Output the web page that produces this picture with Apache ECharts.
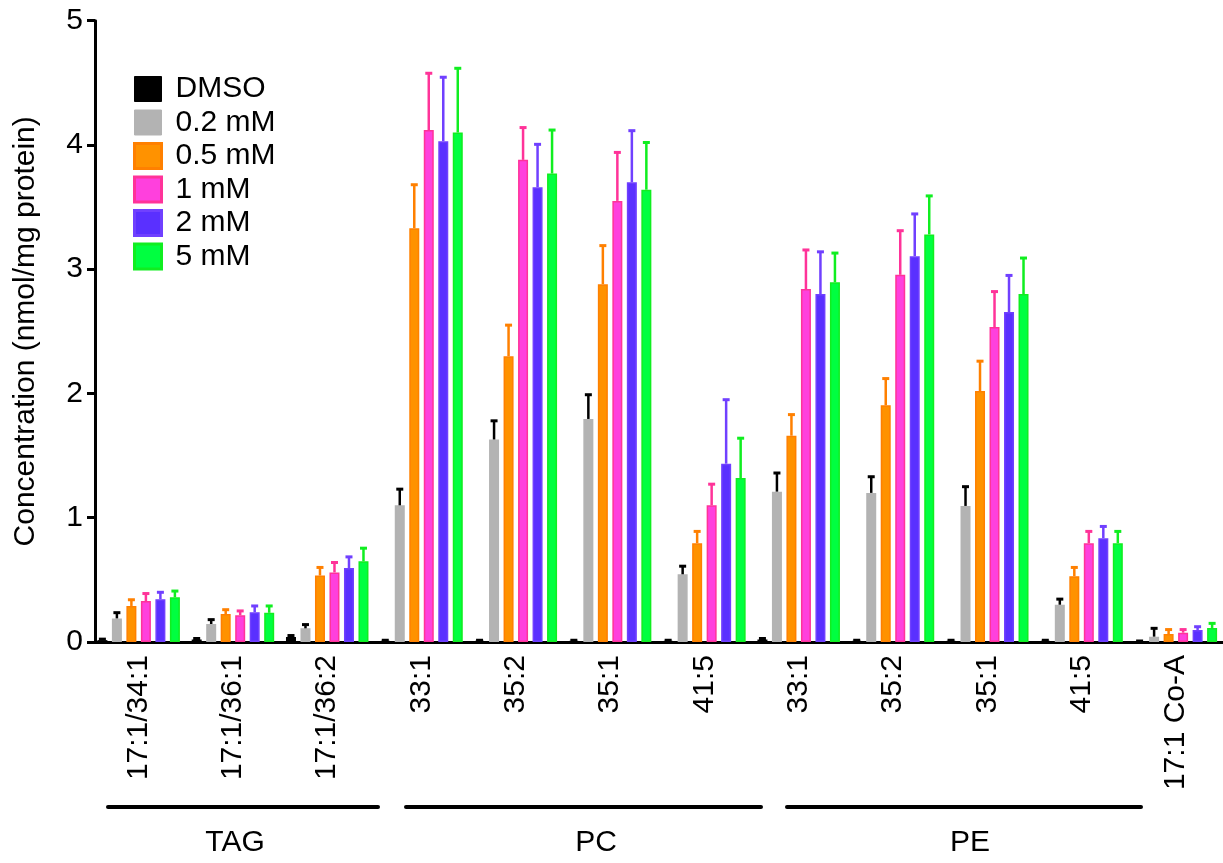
<!DOCTYPE html>
<html><head><meta charset="utf-8">
<script src="https://cdn.jsdelivr.net/npm/echarts@6/dist/echarts.min.js"></script>
<style>html,body{margin:0;padding:0;background:#fff}#c{width:1223px;height:863px}</style>
</head><body><div id="c"></div>
<script>
// ---- data ----
const categories = ['17:1/34:1','17:1/36:1','17:1/36:2','33:1','35:2','35:1','41:5','33:1','35:2','35:1','41:5','17:1 Co-A'];
const seriesNames = ['DMSO','0.2 mM','0.5 mM','1 mM','2 mM','5 mM'];
const groupLabels = ['TAG','PC','PE'];
const yTicks = [0,1,2,3,4,5];

const dmsoMean = [0.015,0.02,0.04,0.01,0.01,0.01,0.01,0.02,0.01,0.01,0.01,0.005];
const dmsoErr  = [0.008,0.008,0.012,0.004,0.004,0.004,0.004,0.008,0.004,0.004,0.004,0.003];
const mM02Mean = [0.19,0.145,0.11,1.10,1.63,1.795,0.545,1.21,1.20,1.095,0.30,0.043];
const mM02Err  = [0.046,0.035,0.03,0.13,0.15,0.195,0.065,0.15,0.13,0.155,0.045,0.067];
const mM05Mean = [0.29,0.225,0.535,3.33,2.30,2.88,0.795,1.66,1.905,2.02,0.53,0.064];
const mM05Err  = [0.05,0.035,0.065,0.35,0.25,0.31,0.095,0.17,0.215,0.24,0.07,0.036];
const mM1Mean  = [0.33,0.215,0.56,4.12,3.88,3.55,1.10,2.84,2.955,2.535,0.795,0.075];
const mM1Err   = [0.06,0.035,0.08,0.457,0.26,0.39,0.17,0.315,0.355,0.285,0.095,0.025];
const mM2Mean  = [0.345,0.24,0.595,4.03,3.66,3.70,1.435,2.80,3.105,2.655,0.835,0.097];
const mM2Err   = [0.055,0.05,0.09,0.515,0.345,0.415,0.515,0.34,0.34,0.295,0.095,0.026];
const mM5Mean  = [0.36,0.235,0.65,4.10,3.77,3.64,1.32,2.895,3.28,2.80,0.795,0.113];
const mM5Err   = [0.05,0.055,0.105,0.517,0.35,0.38,0.32,0.235,0.31,0.29,0.095,0.037];

// ---- style ----
const means = [dmsoMean,mM02Mean,mM05Mean,mM1Mean,mM2Mean,mM5Mean];
const errs  = [dmsoErr,mM02Err,mM05Err,mM1Err,mM2Err,mM5Err];
const fills   = ['#000000','#b3b3b3','#ff9200','#ff40dd','#5a30ff','#00ff40'];
const borders = ['#000000','#b3b3b3','#ff8000','#ff3399','#7040ff','#10ee20'];
const errCols = ['#000000','#000000','#ff8000','#ff3399','#7040ff','#10ee20'];
const BAR_W = 10, BAR_GAP = 0.45, STEP = BAR_W*(1+BAR_GAP);
const FONT = "'Liberation Sans', Arial, Helvetica, sans-serif";

const chart = echarts.init(document.getElementById('c'), null, {renderer:'canvas'});

const series = [];
seriesNames.forEach((n,si)=>{
  series.push({
    type:'bar', name:n, data:means[si], barWidth:BAR_W, barGap:(BAR_GAP*100)+'%',
    itemStyle:{color:fills[si], borderColor:borders[si], borderWidth:1.5},
    emphasis:{disabled:true}, z:2
  });
});
seriesNames.forEach((n,si)=>{
  series.push({
    type:'custom', name:n+' err', silent:true, z:3,
    data: means[si].map((m,i)=>[i,m,m+errs[si][i]]),
    renderItem:(params,api)=>{
      const c = api.value(0);
      const base = api.coord([c, api.value(1)]);
      const top = api.coord([c, api.value(2)]);
      const x = base[0] + (si-2.5)*STEP;
      return {type:'group', children:[
        {type:'line', shape:{x1:x,y1:base[1],x2:x,y2:top[1]}, style:{stroke:errCols[si], lineWidth:2.5}},
        {type:'line', shape:{x1:x-3.5,y1:top[1],x2:x+3.5,y2:top[1]}, style:{stroke:errCols[si], lineWidth:3}}
      ]};
    }
  });
});

const groupLines = [[108,378],[406,761],[787,1141]];
const groupCenters = [235,596,970];
const graphics = [];
groupLines.forEach((g,i)=>{
  graphics.push({type:'line', shape:{x1:g[0],y1:807,x2:g[1],y2:807}, style:{stroke:'#000',lineWidth:4,lineCap:'round'}});
  graphics.push({type:'text', x:groupCenters[i], y:843, style:{text:groupLabels[i], font:'30px '+FONT, fill:'#000', textAlign:'center', textVerticalAlign:'middle'}});
});

chart.setOption({
  animation:false,
  backgroundColor:'#fff',
  textStyle:{fontFamily:FONT},
  grid:{left:91.5, top:20.7, width:1132.5, height:621.3},
  legend:{
    orient:'vertical', left:128, top:69, itemWidth:27, itemHeight:25, itemGap:3.5, icon:'rect',
    selectedMode:false,
    textStyle:{fontSize:30, color:'#000', fontFamily:FONT, lineHeight:28, padding:[0,0,0,9]},
    data: seriesNames.map((n,si)=>({name:n, itemStyle:{color:fills[si], borderColor:borders[si], borderWidth:si<2?1:3}}))
  },
  xAxis:{
    type:'category', data:categories,
    axisLine:{lineStyle:{color:'#000', width:3}},
    axisTick:{alignWithLabel:true, length:9, lineStyle:{color:'#000', width:3}},
    axisLabel:{rotate:90, fontSize:30, color:'#000', margin:13, interval:0, fontFamily:FONT}
  },
  yAxis:{
    type:'value', min:yTicks[0], max:yTicks[yTicks.length-1], interval:1, offset:-3.5,
    axisLine:{show:true, lineStyle:{color:'#000', width:3}},
    axisTick:{show:true, length:8, lineStyle:{color:'#000', width:3}},
    splitLine:{show:false},
    axisLabel:{fontSize:30, color:'#000', margin:12, fontFamily:FONT},
    name:'Concentration (nmol/mg protein)', nameLocation:'middle', nameGap:54,
    nameTextStyle:{fontSize:30, color:'#000', fontFamily:FONT}
  },
  graphic:graphics,
  series:series
});
</script></body></html>
